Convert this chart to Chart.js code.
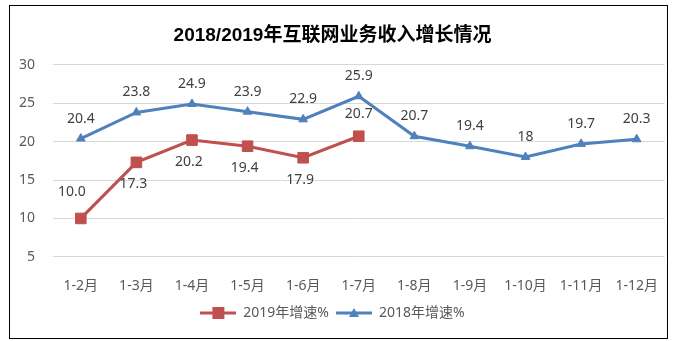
<!DOCTYPE html>
<html>
<head>
<meta charset="utf-8">
<script src="https://cdn.jsdelivr.net/npm/chart.js@4"></script>
<style>
  html, body { margin: 0; padding: 0; background: #fff; }
  #wrap { width: 673px; height: 341px; }
</style>
</head>
<body>
<div id="wrap"><canvas id="growthChart" width="673" height="341"></canvas></div>
<script>
const months = ['1-2月', '1-3月', '1-4月', '1-5月', '1-6月', '1-7月', '1-8月', '1-9月', '1-10月', '1-11月', '1-12月'];
const growth2019 = [10.0, 17.3, 20.2, 19.4, 17.9, 20.7];
const growth2018 = [20.4, 23.8, 24.9, 23.9, 22.9, 25.9, 20.7, 19.4, 18, 19.7, 20.3];
const labels2019 = ['10.0', '17.3', '20.2', '19.4', '17.9', '20.7'];
const labels2018 = ['20.4', '23.8', '24.9', '23.9', '22.9', '25.9', '20.7', '19.4', '18', '19.7', '20.3'];

const RED = '#C0504D';
const BLUE = '#4F81BD';
const FONT = "'Noto Sans', 'Noto Sans CJK SC', sans-serif";

// legend swatch: short line with marker in the middle
function legendSwatch(color, shape) {
    const c = document.createElement('canvas');
    c.width = 36; c.height = 14;
    const g = c.getContext('2d');
    g.strokeStyle = color;
    g.lineWidth = 3;
    g.beginPath(); g.moveTo(0, 7); g.lineTo(36, 7); g.stroke();
    g.fillStyle = color;
    if (shape === 'rect') {
        g.fillRect(12, 1, 12, 12);
    } else {
        g.beginPath(); g.moveTo(18, 2); g.lineTo(23, 11); g.lineTo(13, 11); g.closePath(); g.fill();
    }
    return c;
}

// frame + white background
const framePlugin = {
    id: 'frame',
    beforeDraw(chart) {
        const ctx = chart.ctx;
        ctx.save();
        ctx.fillStyle = '#fff';
        ctx.fillRect(0, 0, chart.width, chart.height);
        ctx.strokeStyle = '#000';
        ctx.lineWidth = 1;
        ctx.strokeRect(9.5, 5.5, 658, 333);
        ctx.restore();
    }
};

// value labels next to the points
const valueLabels = {
    id: 'valueLabels',
    afterDatasetsDraw(chart) {
        const ctx = chart.ctx;
        ctx.save();
        ctx.font = '14px ' + FONT;
        ctx.fillStyle = '#404040';
        ctx.textAlign = 'center';
        ctx.textBaseline = 'middle';
        chart.data.datasets.forEach((ds, i) => {
            const meta = chart.getDatasetMeta(i);
            meta.data.forEach((pt, j) => {
                let dx = 0, dy = -20;
                if (ds.valueText === labels2019) {
                    const last = j === ds.data.length - 1;
                    if (j === 0) { dx = -9; dy = -26; }
                    else if (last) { dy = -22; }
                    else { dx = -3; dy = 22; }
                }
                ctx.fillText(ds.valueText[j], pt.x + dx, pt.y + dy);
            });
        });
        ctx.restore();
    }
};

new Chart(document.getElementById('growthChart'), {
    type: 'line',
    data: {
        labels: months,
        datasets: [{
            label: '2019年增速%',
            data: growth2019,
            valueText: labels2019,
            borderColor: RED,
            backgroundColor: RED,
            borderWidth: 3,
            pointStyle: 'rect',
            pointRadius: 7.5,
            pointBorderWidth: 1,
            tension: 0
        }, {
            label: '2018年增速%',
            data: growth2018,
            valueText: labels2018,
            borderColor: BLUE,
            backgroundColor: BLUE,
            borderWidth: 3,
            pointStyle: 'triangle',
            pointRadius: 5,
            pointBorderWidth: 1,
            tension: 0
        }]
    },
    options: {
        responsive: false,
        animation: false,
        layout: { padding: { left: 0, right: 8, top: 0, bottom: 11 } },
        plugins: {
            title: {
                display: true,
                text: '2018/2019年互联网业务收入增长情况',
                color: '#000',
                font: { family: "'Liberation Sans', 'Noto Sans CJK SC', sans-serif", size: 19, weight: 'bold' },
                padding: { top: 24, bottom: 18 }
            },
            legend: {
                position: 'bottom',
                labels: {
                    color: '#595959',
                    font: { family: FONT, size: 14 },
                    usePointStyle: true,
                    pointStyleWidth: 36,
                    padding: 7,
                    generateLabels(chart) {
                        return chart.data.datasets.map((ds, i) => ({
                            text: ds.label,
                            fontColor: '#595959',
                            pointStyle: legendSwatch(ds.borderColor, ds.pointStyle),
                            datasetIndex: i,
                            hidden: false,
                            lineWidth: 0
                        }));
                    }
                }
            },
            tooltip: { enabled: false }
        },
        scales: {
            x: {
                offset: true,
                grid: { display: false, drawTicks: false },
                border: { display: false },
                ticks: { color: '#595959', font: { family: FONT, size: 14 }, padding: 5, maxRotation: 0, autoSkip: false }
            },
            y: {
                min: 3,
                max: 30,
                afterBuildTicks(scale) {
                    scale.ticks = scale.ticks.filter(t => t.value % 5 === 0);
                },
                afterFit(scale) { scale.width = 53; },
                grid: { color: '#D9D9D9', lineWidth: 1, drawTicks: false },
                border: { display: false },
                ticks: { stepSize: 5, color: '#595959', font: { family: FONT, size: 14 }, padding: 18 }
            }
        }
    },
    plugins: [framePlugin, valueLabels]
});
</script>
</body>
</html>
